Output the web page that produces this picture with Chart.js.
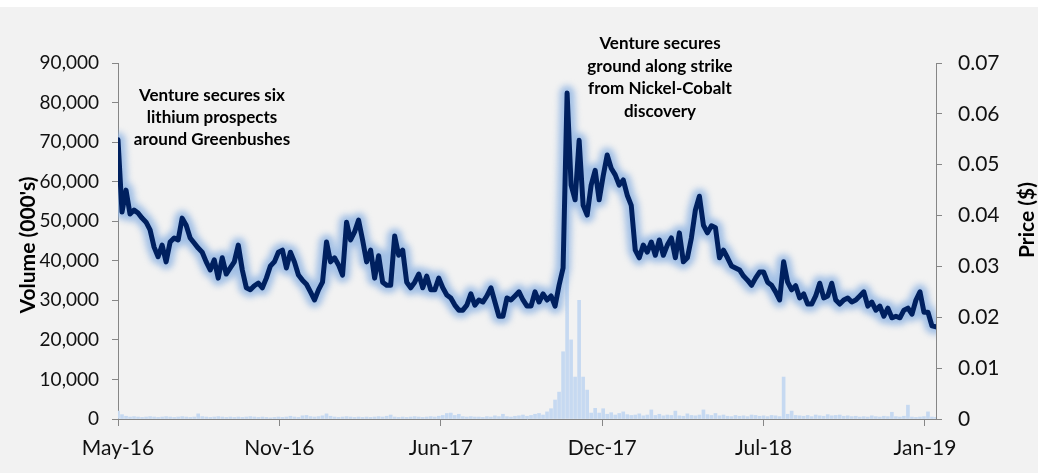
<!DOCTYPE html>
<html>
<head>
<meta charset="utf-8">
<script src="https://cdn.jsdelivr.net/npm/chart.js@4.4.1/dist/chart.umd.min.js"></script>
<style>
  html, body { margin: 0; padding: 0; background: #fff; }
  #wrap { position: absolute; left: 0; top: 7px; width: 1038px; height: 466px; background: #f2f2f2; }
</style>
</head>
<body>
<div id="wrap"><canvas id="chart" width="1038" height="466"></canvas></div>
<script>
// x axis: trading-day samples, ticks every ~40 samples
const tickLabels = ["May-16", "Nov-16", "Jun-17", "Dec-17", "Jul-18", "Jan-19"];
const tickIndex = [0, 40.25, 80.5, 120.75, 161, 201.25];

// share price ($)
const price = [
  0.0549, 0.0407, 0.0450, 0.0403, 0.0411, 0.0405, 0.0395, 0.0387, 0.0372, 0.0338,
  0.0319, 0.0342, 0.0309, 0.0348, 0.0356, 0.0352, 0.0395, 0.0381, 0.0356, 0.0346,
  0.0336, 0.0328, 0.0309, 0.0293, 0.0313, 0.0277, 0.0317, 0.0285, 0.0297, 0.0309,
  0.0342, 0.0293, 0.0258, 0.0254, 0.0262, 0.0267, 0.0258, 0.0277, 0.0301, 0.0309,
  0.0328, 0.0332, 0.0297, 0.0328, 0.0309, 0.0283, 0.0273, 0.0265, 0.0250, 0.0234,
  0.0254, 0.0269, 0.0348, 0.0309, 0.0317, 0.0303, 0.0283, 0.0387, 0.0352, 0.0368,
  0.0391, 0.0352, 0.0309, 0.0332, 0.0277, 0.0321, 0.0269, 0.0263, 0.0263, 0.0360,
  0.0322, 0.0332, 0.0269, 0.0258, 0.0269, 0.0285, 0.0258, 0.0281, 0.0254, 0.0254,
  0.0277, 0.0258, 0.0244, 0.0238, 0.0224, 0.0214, 0.0214, 0.0224, 0.0246, 0.0224,
  0.0234, 0.0230, 0.0242, 0.0258, 0.0230, 0.0202, 0.0202, 0.0238, 0.0234, 0.0242,
  0.0250, 0.0234, 0.0222, 0.0222, 0.0250, 0.0230, 0.0246, 0.0234, 0.0242, 0.0222,
  0.0263, 0.0297, 0.0641, 0.0460, 0.0431, 0.0548, 0.0420, 0.0401, 0.0460, 0.0489,
  0.0431, 0.0478, 0.0519, 0.0493, 0.0480, 0.0460, 0.0470, 0.0440, 0.0420, 0.0332,
  0.0317, 0.0342, 0.0328, 0.0348, 0.0322, 0.0352, 0.0322, 0.0342, 0.0356, 0.0317,
  0.0366, 0.0309, 0.0317, 0.0356, 0.0411, 0.0438, 0.0381, 0.0366, 0.0380, 0.0376,
  0.0317, 0.0332, 0.0317, 0.0301, 0.0297, 0.0293, 0.0281, 0.0273, 0.0263, 0.0277,
  0.0289, 0.0289, 0.0269, 0.0263, 0.0250, 0.0234, 0.0309, 0.0269, 0.0254, 0.0262,
  0.0238, 0.0246, 0.0226, 0.0226, 0.0242, 0.0267, 0.0238, 0.0242, 0.0267, 0.0234,
  0.0226, 0.0234, 0.0238, 0.0230, 0.0234, 0.0242, 0.0250, 0.0222, 0.0230, 0.0214,
  0.0222, 0.0202, 0.0218, 0.0199, 0.0202, 0.0199, 0.0214, 0.0218, 0.0206, 0.0234,
  0.0250, 0.0210, 0.0210, 0.0183, 0.0181
];

// volume (000's)
const volume = [
  2000, 1100, 700, 500, 600, 500, 400, 500, 600, 500,
  400, 500, 600, 500, 400, 500, 600, 500, 400, 500,
  1300, 600, 500, 400, 500, 600, 500, 400, 500, 400,
  500, 400, 500, 600, 500, 400, 500, 400, 300, 400,
  500, 400, 500, 700, 500, 400, 800, 900, 600, 500,
  600, 800, 1300, 700, 500, 400, 500, 600, 500, 400,
  500, 400, 500, 400, 500, 600, 500, 700, 1000, 500,
  400, 500, 400, 500, 600, 500, 400, 500, 600, 500,
  700, 900, 1400, 1500, 900, 1200, 600, 500, 600, 500,
  500, 400, 600, 500, 800, 600, 1200, 600, 500, 700,
  800, 1000, 700, 900, 1200, 1400, 1000, 1800, 2600, 4800,
  6800, 17000, 77000, 20000, 10600, 30000, 10600, 7300, 1500, 2700,
  1500, 2600, 1200, 1600, 1000, 1400, 1800, 1100, 900, 1000,
  1300, 800, 1000, 2300, 900, 1200, 800, 1000, 900, 2000,
  800, 700, 1300, 900, 800, 1000, 2300, 1100, 900, 1400,
  800, 1000, 700, 600, 900, 700, 800, 600, 1000, 900,
  700, 800, 600, 900, 800, 600, 10600, 1200, 2000, 900,
  800, 700, 900, 600, 1000, 800, 700, 1100, 800, 900,
  1000, 700, 800, 600, 700, 500, 600, 500, 800, 600,
  500, 700, 600, 1700, 600, 500, 700, 3500, 500, 400,
  500, 600, 1800, 500, 400
];

const noteLeft = ["Venture secures six", "lithium prospects", "around Greenbushes"];
const noteRight = ["Venture secures", "ground along strike", "from Nickel-Cobalt", "discovery"];

const FONT = "Lato";
const AXIS = "#868686";

// blur the wide copy of the price line so it looks like a glow
const glowPlugin = {
  id: "glow",
  beforeDatasetDraw(chart, args) {
    if (args.index === 1) {
      chart.ctx.save();
      chart.ctx.filter = "blur(3px)";
    }
  },
  afterDatasetDraw(chart, args) {
    if (args.index === 1) chart.ctx.restore();
  }
};

const textPlugin = {
  id: "texts",
  afterDraw(chart) {
    const ctx = chart.ctx;
    ctx.save();
    ctx.fillStyle = "#000";
    ctx.textAlign = "center";
    ctx.textBaseline = "middle";
    ctx.font = "bold 17px " + FONT;
    noteLeft.forEach((t, k) => ctx.fillText(t, 212, 89 + k * 22));
    noteRight.forEach((t, k) => ctx.fillText(t, 660, 37 + k * 22.5));

    ctx.font = "bold 21px " + FONT;
    ctx.save();
    ctx.translate(28, 238);
    ctx.rotate(-Math.PI / 2);
    ctx.fillText("Volume (000's)", 0, 0);
    ctx.restore();
    ctx.save();
    ctx.translate(1027, 213);
    ctx.rotate(-Math.PI / 2);
    ctx.fillText("Price ($)", 0, 0);
    ctx.restore();
    ctx.restore();
  }
};

const priceData = price.map((p, i) => ({ x: i, y: p }));
const volData = volume.map((v, i) => ({ x: i, y: v }));

new Chart(document.getElementById("chart"), {
  type: "bar",
  data: {
    datasets: [
      {
        type: "line",
        data: priceData,
        yAxisID: "y1",
        borderColor: "#00205f",
        borderWidth: 5,
        borderJoinStyle: "round",
        borderCapStyle: "round",
        pointRadius: 0,
        tension: 0,
        order: 0
      },
      {
        type: "line",
        data: priceData,
        yAxisID: "y1",
        borderColor: "rgba(141,179,226,0.8)",
        borderWidth: 15,
        borderJoinStyle: "round",
        borderCapStyle: "round",
        pointRadius: 0,
        tension: 0,
        order: 1
      },
      {
        type: "bar",
        data: volData,
        yAxisID: "y",
        backgroundColor: "#c6d9f1",
        borderWidth: 0,
        barThickness: 3,
        order: 2
      }
    ]
  },
  options: {
    responsive: false,
    animation: false,
    layout: { padding: { top: 56, left: 0, right: 0, bottom: 0 } },
    plugins: { legend: { display: false }, tooltip: { enabled: false } },
    scales: {
      x: {
        type: "linear",
        min: 0,
        max: 204,
        offset: false,
        grid: { offset: false, drawOnChartArea: false, drawTicks: true, tickLength: 7, color: AXIS },
        border: { display: true, color: AXIS },
        afterBuildTicks: (s) => { s.ticks = tickIndex.map(v => ({ value: v })); },
        afterFit: (s) => { s.height = 54; },
        ticks: {
          autoSkip: false,
          maxRotation: 0,
          padding: 10,
          color: "#111",
          font: { family: FONT, size: 21 },
          callback: (v, i) => tickLabels[i]
        }
      },
      y: {
        position: "left",
        min: 0,
        max: 90000,
        grid: { drawOnChartArea: false, drawTicks: true, tickLength: 6, color: AXIS },
        border: { display: true, color: AXIS },
        afterFit: (s) => { s.width = 118; },
        ticks: {
          stepSize: 10000,
          padding: 13,
          color: "#111",
          font: { family: FONT, size: 19 },
          callback: (v) => v.toLocaleString("en-US")
        }
      },
      y1: {
        position: "right",
        min: 0,
        max: 0.07,
        grid: { drawOnChartArea: false, drawTicks: true, tickLength: 6, color: AXIS },
        border: { display: true, color: AXIS },
        afterFit: (s) => { s.width = 102; },
        ticks: {
          stepSize: 0.01,
          padding: 16,
          color: "#111",
          font: { family: FONT, size: 21 },
          callback: (v) => (v === 0 ? "0" : v.toFixed(2))
        }
      }
    }
  },
  plugins: [glowPlugin, textPlugin]
});
</script>
</body>
</html>
